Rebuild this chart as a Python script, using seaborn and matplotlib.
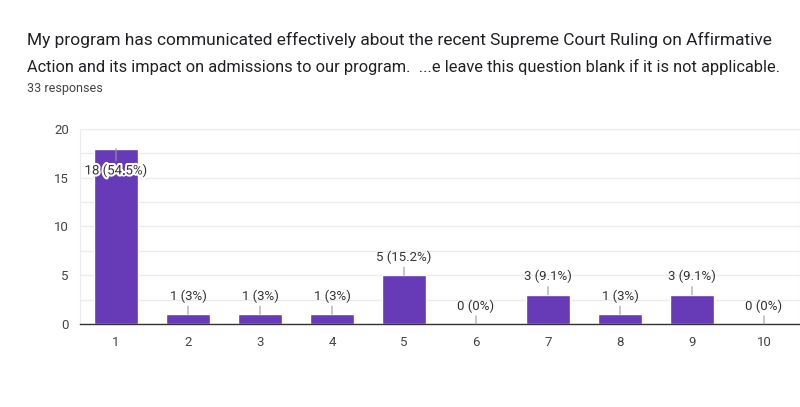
import matplotlib
matplotlib.use("Agg")
import matplotlib.pyplot as plt
import matplotlib.patheffects as pe
import pandas as pd
import seaborn as sns

# survey answers (scale 1-10) and their counts
categories = ["1", "2", "3", "4", "5", "6", "7", "8", "9", "10"]
counts = [18, 1, 1, 1, 5, 0, 3, 1, 3, 0]
labels = ["18 (54.5%)", "1 (3%)", "1 (3%)", "1 (3%)", "5 (15.2%)",
          "0 (0%)", "3 (9.1%)", "1 (3%)", "3 (9.1%)", "0 (0%)"]
yticks = [0, 5, 10, 15, 20]

title_1 = "My program has communicated effectively about the recent Supreme Court Ruling on Affirmative"
title_2 = "Action and its impact on admissions to our program.  ...e leave this question blank if it is not applicable."
subtitle = "33 responses"

sns.set_style("white")
plt.rcParams['font.family'] = ['Roboto', 'DejaVu Sans']

df = pd.DataFrame({"answer": categories, "count": counts})

fig = plt.figure(figsize=(8, 4.07), dpi=100)
ax = fig.add_axes([0.1, 0.204, 0.9, 0.479])

sns.barplot(data=df, x="answer", y="count", color="#673ab7", width=0.6,
            saturation=1, ax=ax, zorder=2)

ax.set_ylim(0, 20)
ax.set_xlim(-0.5, 9.5)
ax.set_yticks(yticks)
ax.set_yticks([2.5, 7.5, 12.5, 17.5], minor=True)
ax.grid(axis="y", which="both", color="#ececec", linewidth=1, zorder=0)
ax.set_xlabel("")
ax.set_ylabel("")
ax.tick_params(axis="both", length=0, labelsize=9.5, colors="#444444")
ax.tick_params(axis="x", pad=9)
ax.tick_params(axis="y", pad=8)

for side in ["left", "right", "top"]:
    ax.spines[side].set_color("#ececec")
ax.spines["bottom"].set_color("#333333")
ax.spines["bottom"].set_linewidth(1)

for i, (v, lab) in enumerate(zip(counts, labels)):
    if v >= 15:
        t = ax.annotate(lab, xy=(i, v), xytext=(0, -16), textcoords="offset points",
                        ha="center", va="center", fontsize=9.5, color="#333333",
                        arrowprops=dict(arrowstyle="-", color="#999999", lw=0.8,
                                        shrinkA=0, shrinkB=0), zorder=4)
        t.set_path_effects([pe.withStroke(linewidth=3, foreground="white")])
    else:
        ax.annotate(lab, xy=(i, v), xytext=(0, 13), textcoords="offset points",
                    ha="center", va="center", fontsize=9.5, color="#333333",
                    arrowprops=dict(arrowstyle="-", color="#999999", lw=0.8,
                                    shrinkA=0, shrinkB=0), zorder=4)

fig.text(0.034, 1 - 45 / 407, title_1, fontsize=12.5, color="#202124", va="baseline")
fig.text(0.034, 1 - 72 / 407, title_2, fontsize=11.8, color="#202124", va="baseline")
fig.text(0.034, 1 - 92 / 407, subtitle, fontsize=9, color="#444444", va="baseline")

fig.savefig("out.png", dpi=100)
